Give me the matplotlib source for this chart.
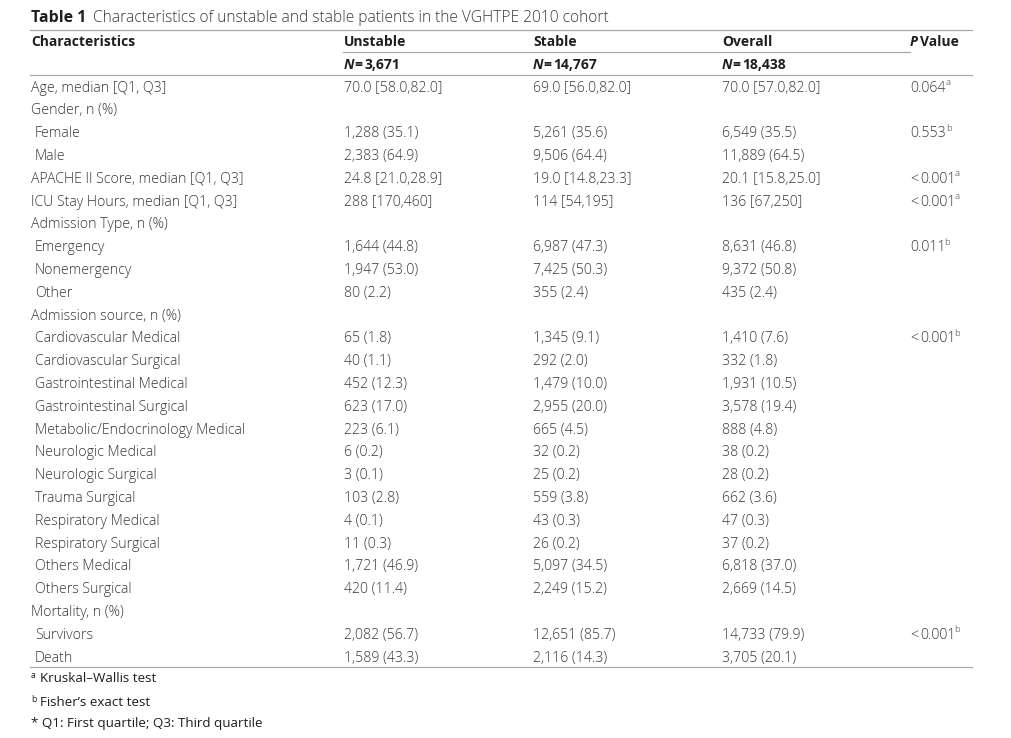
import matplotlib
matplotlib.use('Agg')
import matplotlib.pyplot as plt

# ---------------- data ----------------
title_bold = "Table 1"
title_text = "Characteristics of unstable and stable patients in the VGHTPE 2010 cohort"
col_headers = ["Unstable", "Stable", "Overall"]
col_n = ["3,671", "14,767", "18,438"]

row_labels = [
    "Age, median [Q1, Q3]", "Gender, n (%)", "Female", "Male",
    "APACHE II Score, median [Q1, Q3]", "ICU Stay Hours, median [Q1, Q3]",
    "Admission Type, n (%)", "Emergency", "Nonemergency", "Other",
    "Admission source, n (%)", "Cardiovascular Medical", "Cardiovascular Surgical",
    "Gastrointestinal Medical", "Gastrointestinal Surgical",
    "Metabolic/Endocrinology Medical", "Neurologic Medical", "Neurologic Surgical",
    "Trauma Surgical", "Respiratory Medical", "Respiratory Surgical",
    "Others Medical", "Others Surgical", "Mortality, n (%)", "Survivors", "Death",
]
row_indent = [0, 0, 1, 1, 0, 0, 0, 1, 1, 1, 0, 1, 1, 1, 1, 1, 1, 1, 1, 1, 1, 1, 1, 0, 1, 1]
unstable = [
    "70.0 [58.0,82.0]", "", "1,288 (35.1)", "2,383 (64.9)", "24.8 [21.0,28.9]",
    "288 [170,460]", "", "1,644 (44.8)", "1,947 (53.0)", "80 (2.2)", "",
    "65 (1.8)", "40 (1.1)", "452 (12.3)", "623 (17.0)", "223 (6.1)", "6 (0.2)",
    "3 (0.1)", "103 (2.8)", "4 (0.1)", "11 (0.3)", "1,721 (46.9)", "420 (11.4)",
    "", "2,082 (56.7)", "1,589 (43.3)",
]
stable = [
    "69.0 [56.0,82.0]", "", "5,261 (35.6)", "9,506 (64.4)", "19.0 [14.8,23.3]",
    "114 [54,195]", "", "6,987 (47.3)", "7,425 (50.3)", "355 (2.4)", "",
    "1,345 (9.1)", "292 (2.0)", "1,479 (10.0)", "2,955 (20.0)", "665 (4.5)", "32 (0.2)",
    "25 (0.2)", "559 (3.8)", "43 (0.3)", "26 (0.2)", "5,097 (34.5)", "2,249 (15.2)",
    "", "12,651 (85.7)", "2,116 (14.3)",
]
overall = [
    "70.0 [57.0,82.0]", "", "6,549 (35.5)", "11,889 (64.5)", "20.1 [15.8,25.0]",
    "136 [67,250]", "", "8,631 (46.8)", "9,372 (50.8)", "435 (2.4)", "",
    "1,410 (7.6)", "332 (1.8)", "1,931 (10.5)", "3,578 (19.4)", "888 (4.8)", "38 (0.2)",
    "28 (0.2)", "662 (3.6)", "47 (0.3)", "37 (0.2)", "6,818 (37.0)", "2,669 (14.5)",
    "", "14,733 (79.9)", "3,705 (20.1)",
]
pvalue = [
    "0.064", "", "0.553", "", "<0.001", "<0.001", "", "0.011", "", "", "",
    "<0.001", "", "", "", "", "", "", "", "", "", "", "", "", "<0.001", "",
]
pvalue_sup = [
    "a", "", "b", "", "a", "a", "", "b", "", "", "",
    "b", "", "", "", "", "", "", "", "", "", "", "", "", "b", "",
]
footnotes = [("a", "Kruskal\u2013Wallis test"), ("b", "Fisher\u2019s exact test"),
             ("*", "Q1: First quartile; Q3: Third quartile")]

# ---------------- layout ----------------
FAM = ['Open Sans', 'DejaVu Sans']
TXT = '#383838'
HDR = '#1e1e1e'
RULE = '#a8a8a8'
FS = 10.2

fig = plt.figure(figsize=(10.11, 7.38), dpi=100)
ax = fig.add_axes([0, 0, 1, 1])
ax.set_xlim(0, 1011)
ax.set_ylim(738, 0)
ax.axis('off')
renderer = fig.canvas.get_renderer()


def put(x, y, s, size=FS, weight='light', style='normal', color=TXT):
    t = ax.text(x, y, s, fontsize=size, fontweight=weight, fontstyle=style,
                color=color, family=FAM, va='baseline', ha='left')
    bb = t.get_window_extent(renderer)
    return x + bb.width


col_x = [344, 533, 722]
p_x = 910
label_x = [31, 35]
base_off = 4.5  # baseline offset from row centre

# title
x = put(31, 22, title_bold, size=11.4, weight='bold', color=HDR)
put(x + 7, 22, title_text, size=11.2, weight='light', color=TXT)

# rules
ax.plot([30, 972], [29.5, 29.5], color=RULE, lw=0.9)
ax.plot([343, 910], [52, 52], color=RULE, lw=0.9)
ax.plot([30, 972], [74.5, 74.5], color=RULE, lw=0.9)
ax.plot([30, 972], [667, 667], color=RULE, lw=0.9)

# header
put(31, 46, "Characteristics", size=10.0, weight='bold', color=HDR)
for cx, h, n in zip(col_x, col_headers, col_n):
    put(cx, 46, h, size=10.0, weight='bold', color=HDR)
    xx = put(cx, 69, "N", size=10.0, weight='bold', style='italic', color=HDR)
    xx = put(xx - 0.5, 69, "=", size=10.0, weight='bold', color=HDR)
    put(xx + 2.5, 69, n, size=10.0, weight='bold', color=HDR)
xx = put(p_x, 46, "P", size=10.0, weight='bold', style='italic', color=HDR)
put(xx + 2, 46, "Value", size=10.0, weight='bold', color=HDR)

# body rows
y0, dy = 87, 22.8
for i, lab in enumerate(row_labels):
    y = y0 + i * dy + base_off
    put(label_x[row_indent[i]], y, lab)
    for cx, col in zip(col_x, (unstable, stable, overall)):
        if col[i]:
            put(cx, y, col[i])
    if pvalue[i]:
        s = pvalue[i]
        xx = p_x
        if s.startswith("<"):
            xx = put(xx, y, "<") + 2
            s = s[1:]
        xx = put(xx, y, s)
        if s.endswith("1"):
            xx -= 2.0
        put(xx + 0.5, y - 6.5, pvalue_sup[i], size=FS * 0.66)

# footnotes
fy = [678, 702, 722]
for (mark, txt), y in zip(footnotes, fy):
    yb = y + base_off
    if mark == "*":
        put(31, yb, "* " + txt, size=9.6, weight='normal', color=HDR)
    else:
        put(31, yb - 5, mark, size=6.2, weight='normal', color=HDR)
        put(39.5, yb, txt, size=9.6, weight='normal', color=HDR)

fig.savefig('out.png', dpi=100)
